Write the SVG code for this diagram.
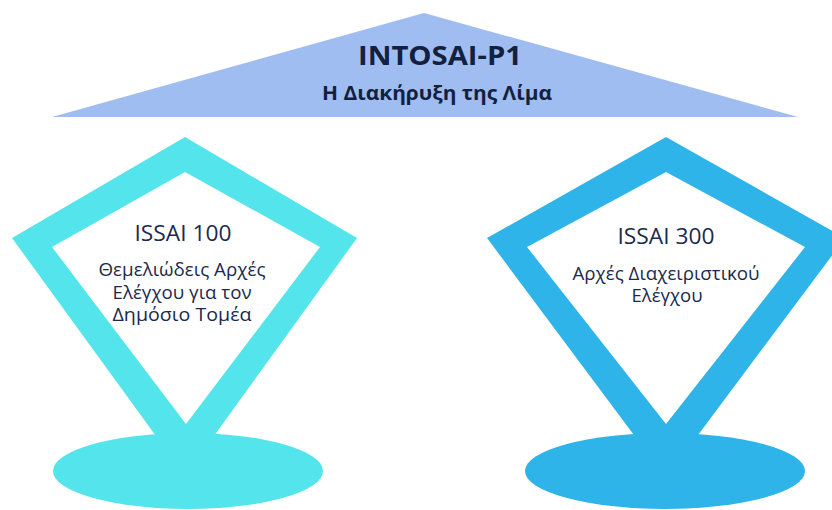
<svg xmlns="http://www.w3.org/2000/svg" width="832" height="510" viewBox="0 0 832 510">
<style>
.title{font-family:"Open Sans","Liberation Sans",sans-serif;font-weight:bold;fill:#13213F;text-anchor:middle}
.lbl{font-family:"Open Sans","Liberation Sans",sans-serif;fill:#1B2A4E;text-anchor:middle}
.inner{fill:#FFFFFF}
.cyan{fill:#54E5EC}
.blue{fill:#2FB4EA}
</style>
<rect width="832" height="510" fill="#FFFFFF"/>
<g id="roof">
<polygon points="52,117 424,13 798,117" fill="#A0BDF2"/>
<text class="title" x="440" y="65" font-size="27" textLength="164" lengthAdjust="spacingAndGlyphs">INTOSAI-P1</text>
<text class="title" x="437" y="100" font-size="20" textLength="230" lengthAdjust="spacingAndGlyphs">Η Διακήρυξη της Λίμα</text>
</g>
<g id="issai100">
<polygon class="cyan" points="185,137 357,238 185,476 12,238"/>
<polygon class="inner" points="185,172 320,247 186,424 52,247"/>
<ellipse class="cyan" cx="188" cy="471" rx="135" ry="38"/>
<text class="lbl" x="183" y="241" font-size="21" textLength="97" lengthAdjust="spacingAndGlyphs">ISSAI 100</text>
<text class="lbl" x="182" y="276" font-size="18" textLength="167" lengthAdjust="spacingAndGlyphs">Θεμελιώδεις Αρχές</text>
<text class="lbl" x="182" y="299" font-size="18" textLength="139" lengthAdjust="spacingAndGlyphs">Ελέγχου για τον</text>
<text class="lbl" x="182" y="321" font-size="18" textLength="139" lengthAdjust="spacingAndGlyphs">Δημόσιο Τομέα</text>
</g>
<g id="issai300">
<polygon class="blue" points="666,137 845,238 666,478 487,238"/>
<polygon class="inner" points="666,172 805,247 666,424 527,247"/>
<ellipse class="blue" cx="665" cy="471" rx="140" ry="38"/>
<text class="lbl" x="666" y="244" font-size="21" textLength="97" lengthAdjust="spacingAndGlyphs">ISSAI 300</text>
<text class="lbl" x="666" y="280" font-size="18" textLength="187" lengthAdjust="spacingAndGlyphs">Αρχές Διαχειριστικού</text>
<text class="lbl" x="667" y="302" font-size="18" textLength="71" lengthAdjust="spacingAndGlyphs">Ελέγχου</text>
</g>
<g id="connectors"/>
</svg>
